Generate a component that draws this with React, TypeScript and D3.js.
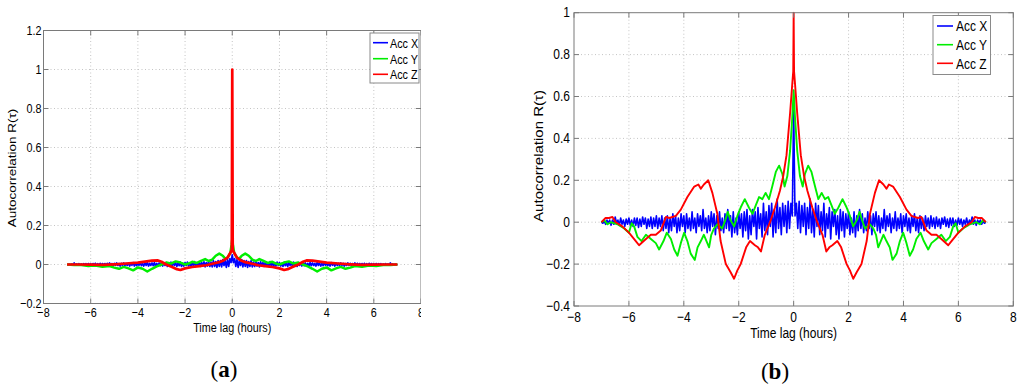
import React, { useEffect, useRef } from 'react';
import * as d3 from 'd3';

const seriesNames = ['Acc X', 'Acc Y', 'Acc Z'];
const seriesColors = ['#0000ff', '#00ee00', '#ff0000'];
const xTicks = [-8, -6, -4, -2, 0, 2, 4, 6, 8];
const yTicksA = [-0.2, 0, 0.2, 0.4, 0.6, 0.8, 1, 1.2];
const yTicksB = [-0.4, -0.2, 0, 0.2, 0.4, 0.6, 0.8, 1];

// Acc X is sampled every 0.05 h from lag 0 to 7 h (the autocorrelation is symmetric)
const xStep = 0.05;

// panel (a)
const accXa = [
  0.05, 0.01, 0.03, -0.01, 0.025, -0.015, 0.02, -0.005, 0.025, -0.012,
  0.02, -0.01, 0.02, -0.015, 0.015, -0.01, 0.02, -0.012, 0.012, -0.01,
  0.015, -0.008, 0.01, -0.012, 0.014, -0.006, 0.01, -0.01, 0.012, -0.008,
  0.008, -0.01, 0.015, -0.006, 0.01, -0.01, 0.008, -0.008, 0.012, -0.005,
  0.01, -0.008, 0.006, -0.01, 0.012, -0.006, 0.008, -0.01, 0.01, -0.005,
  0.008, -0.008, 0.012, -0.006, 0.006, -0.01, 0.01, -0.005, 0.008, -0.008,
  0.01, -0.006, 0.008, -0.008, 0.006, -0.01, 0.01, -0.006, 0.008, -0.005,
  0.006, -0.008, 0.01, -0.005, 0.008, -0.008, 0.006, -0.006, 0.01, -0.004,
  0.008, -0.006, 0.006, -0.008, 0.01, -0.004, 0.006, -0.008, 0.008, -0.005,
  0.006, -0.006, 0.008, -0.004, 0.006, -0.008, 0.005, -0.005, 0.008, -0.004,
  0.006, -0.005, 0.005, -0.006, 0.008, -0.004, 0.006, -0.005, 0.005, -0.003,
  0.005, -0.004, 0.006, -0.005, 0.004, -0.004, 0.006, -0.003, 0.005, -0.004,
  0.004, -0.003, 0.005, -0.004, 0.004, -0.002, 0.004, -0.003, 0.003, -0.002,
  0.004, -0.002, 0.003, -0.003, 0.008, -0.002, 0.003, -0.002, 0.002, -0.001,
  0,
];
const accYa: [number, number][] = [
  [0, 0.13], [0.03, 0.1], [0.08, 0.06], [0.2, 0.035], [0.3, 0.03], [0.4, 0.045],
  [0.55, 0.056], [0.7, 0.045], [0.85, 0.025], [1.0, 0.018], [1.15, 0.028], [1.3, 0.02],
  [1.5, 0.008], [1.7, 0.014], [1.85, 0.005], [2.0, 0.0], [2.2, 0.01], [2.4, 0.016],
  [2.6, 0.005], [2.8, 0.01], [3.0, 0.0], [3.2, -0.01], [3.4, -0.022], [3.6, -0.036],
  [3.8, -0.022], [4.0, -0.015], [4.2, -0.03], [4.4, -0.02], [4.6, -0.012], [4.8, -0.022],
  [5.0, -0.016], [5.2, -0.008], [5.5, -0.012], [5.8, -0.005], [6.1, -0.008], [6.4, -0.003],
  [6.7, -0.002], [7, 0],
];
const accZa: [number, number][] = [
  [0, 1], [0.02, 0.075], [0.08, 0.06], [0.2, 0.035], [0.35, 0.022], [0.55, 0.012],
  [0.8, 0.005], [1.1, -0.004], [1.4, -0.008], [1.7, -0.013], [2.0, -0.02], [2.2, -0.028],
  [2.35, -0.024], [2.55, -0.013], [2.8, 0.0], [3.0, 0.014], [3.15, 0.021], [3.4, 0.02],
  [3.7, 0.015], [4.0, 0.01], [4.5, 0.005], [5.0, 0.001], [5.5, -0.002], [6.0, -0.001],
  [6.5, 0.0], [7, 0],
];

// panel (b)
const accXb = [
  0.55, 0.03, 0.09, -0.03, 0.10, -0.05, 0.08, -0.02, 0.09, -0.06,
  0.07, -0.03, 0.11, -0.05, 0.06, -0.07, 0.09, -0.02, 0.08, -0.06,
  0.05, -0.04, 0.09, -0.07, 0.04, -0.03, 0.07, -0.08, 0.05, -0.02,
  0.06, -0.06, 0.03, -0.08, 0.06, -0.04, 0.05, -0.07, 0.04, -0.03,
  0.05, -0.06, 0.02, -0.05, 0.05, -0.07, 0.03, -0.04, 0.06, -0.03,
  0.04, -0.05, 0.02, -0.04, 0.05, -0.03, 0.03, -0.06, 0.04, -0.02,
  0.05, -0.04, 0.03, -0.05, 0.02, -0.03, 0.06, -0.04, 0.03, -0.02,
  0.04, -0.05, 0.02, -0.03, 0.05, -0.04, 0.02, -0.03, 0.04, -0.05,
  0.03, -0.02, 0.04, -0.04, 0.02, -0.05, 0.03, -0.02, 0.04, -0.04,
  0.02, -0.05, 0.03, -0.03, 0.02, -0.04, 0.03, -0.02, 0.02, -0.03,
  0.03, -0.02, 0.02, -0.03, 0.025, -0.02, 0.015, -0.03, 0.02, -0.01,
  0.025, -0.02, 0.015, -0.025, 0.02, -0.015, 0.02, -0.02, 0.01, -0.015,
  0.02, -0.01, 0.015, -0.02, 0.01, -0.01, 0.02, -0.015, 0.01, -0.005,
  0.025, -0.01, 0.01, -0.015, 0.01, -0.005, 0.01, -0.01, 0.005, -0.005,
  0,
];
const accYb: [number, number][] = [
  [0, 0.63], [0.05, 0.5], [0.13, 0.34], [0.23, 0.22], [0.33, 0.17], [0.41, 0.23],
  [0.53, 0.27], [0.65, 0.24], [0.78, 0.17], [0.9, 0.11], [1.02, 0.14], [1.14, 0.11],
  [1.26, 0.12], [1.38, 0.08], [1.5, 0.04], [1.63, 0.07], [1.78, 0.11], [1.93, 0.07],
  [2.05, 0.03], [2.17, -0.02], [2.3, 0.01], [2.4, 0.05], [2.49, 0.01], [2.6, -0.03],
  [2.78, -0.01], [2.9, -0.03], [3.0, -0.06], [3.08, -0.12], [3.27, -0.06], [3.38, -0.09],
  [3.5, -0.12], [3.6, -0.18], [3.75, -0.15], [3.87, -0.09], [3.99, -0.05], [4.11, -0.1],
  [4.23, -0.16], [4.35, -0.13], [4.47, -0.08], [4.62, -0.05], [4.74, -0.09], [4.9, -0.13],
  [5.02, -0.1], [5.2, -0.08], [5.38, -0.06], [5.54, -0.09], [5.69, -0.07], [5.81, -0.02],
  [5.9, -0.005], [6.0, -0.05], [6.17, -0.03], [6.42, -0.01], [6.66, 0.0], [6.78, -0.01],
  [6.9, 0.01], [7, 0],
];
const accZb: [number, number][] = [
  [0, 1], [0.015, 0.72], [0.05, 0.66], [0.13, 0.52], [0.26, 0.32], [0.38, 0.22],
  [0.5, 0.15], [0.68, 0.07], [0.86, 0.0], [1.05, -0.06], [1.19, -0.14], [1.3, -0.12],
  [1.41, -0.11], [1.59, -0.09], [1.73, -0.12], [1.93, -0.2], [2.05, -0.23], [2.17, -0.27],
  [2.29, -0.24], [2.47, -0.2], [2.66, -0.09], [2.78, 0.04], [2.96, 0.14], [3.11, 0.2],
  [3.27, 0.18], [3.38, 0.16], [3.47, 0.18], [3.62, 0.17], [3.87, 0.12], [4.11, 0.06],
  [4.29, 0.03], [4.53, 0.02], [4.65, 0.025], [4.84, -0.04], [5.02, -0.06], [5.2, -0.06],
  [5.38, -0.08], [5.63, -0.11], [5.75, -0.09], [6.0, -0.05], [6.24, -0.02], [6.48, 0.0],
  [6.6, 0.025], [6.72, 0.02], [6.85, 0.02], [7, 0],
];

const FONT = "'Liberation Sans', Arial, sans-serif";
const SQUEEZE = 0.8; // the figure is narrower than it is tall, text included

const mirror = (pts: [number, number][]) => [
  ...pts.slice(1).map(([t, v]) => [-t, v] as [number, number]).reverse(),
  ...pts,
];
const fromSteps = (vals: number[]) => vals.map((v, i) => [i * xStep, v] as [number, number]);

const fmt = (v: number) => {
  const s = String(+v.toFixed(1));
  return s.startsWith('-') ? '\u2212' + s.slice(1) : s;
};

const panels = [
  {
    id: 'a',
    left: 43.5, right: 421, top: 30.5, bottom: 303.5,
    yDomain: [-0.2, 1.2], yTicks: yTicksA,
    series: [fromSteps(accXa), accYa, accZa],
    widths: [1.7, 2.5, 2.7],
    font: 13.5,
    yLabel: { x: 12, y: 168 }, xLabelY: 331.5, tickY: 317, yTickGap: 2,
    legend: { x: 370, y: 33, w: 49, h: 50, rows: [42.7, 58.7, 74.3], l0: 373, l1: 388, tx: 390, font: 13.5 },
    caption: { x: 224, y: 377 },
    clip: 421,
  },
  {
    id: 'b',
    left: 574, right: 1013.3, top: 12.7, bottom: 306,
    yDomain: [-0.4, 1], yTicks: yTicksB,
    series: [fromSteps(accXb), accYb, accZb],
    widths: [1.6, 1.9, 1.9],
    font: 15,
    yLabel: { x: 539, y: 156 }, xLabelY: 337.5, tickY: 321.5, yTickGap: 4,
    legend: { x: 933, y: 15.5, w: 57.5, h: 59, rows: [26, 44.7, 63.3], l0: 937, l1: 953, tx: 956, font: 15 },
    caption: { x: 775, y: 379 },
    clip: 1024,
  },
];

const App = () => {
  const ref = useRef<SVGSVGElement>(null);

  useEffect(() => {
    const svg = d3.select(ref.current);
    svg.selectAll('*').remove();

    panels.forEach(p => {
      const x = d3.scaleLinear().domain([-8, 8]).range([p.left, p.right]);
      const y = d3.scaleLinear().domain(p.yDomain).range([p.bottom, p.top]);

      svg.append('clipPath').attr('id', `clip-${p.id}`)
        .append('rect').attr('x', 0).attr('y', 0).attr('width', p.clip).attr('height', 389);
      svg.append('clipPath').attr('id', `plot-${p.id}`)
        .append('rect').attr('x', p.left).attr('y', p.top - 1)
        .attr('width', p.right - p.left).attr('height', p.bottom - p.top + 2);

      const g = svg.append('g').attr('clip-path', `url(#clip-${p.id})`);

      // horizontal text squeezed like the reference
      const label = (px: number, py: number, str: string, size: number, anchor: string) =>
        g.append('text').attr('transform', `translate(${px},${py}) scale(${SQUEEZE},1)`)
          .attr('text-anchor', anchor)
          .style('font-family', FONT).style('font-size', `${size}px`).text(str);

      // dotted grid
      xTicks.slice(1, -1).forEach(t => {
        g.append('line').attr('x1', x(t)).attr('x2', x(t)).attr('y1', p.top).attr('y2', p.bottom)
          .attr('stroke', '#c4c4c4').attr('stroke-dasharray', '1,2.5');
      });
      p.yTicks.slice(1, -1).forEach(t => {
        g.append('line').attr('x1', p.left).attr('x2', p.right).attr('y1', y(t)).attr('y2', y(t))
          .attr('stroke', '#c4c4c4').attr('stroke-dasharray', '1,2.5');
      });

      // series lines
      const line = d3.line<[number, number]>().x(d => x(d[0])).y(d => y(d[1]));
      const lines = g.append('g').attr('clip-path', `url(#plot-${p.id})`);
      p.series.forEach((s, i) => {
        lines.append('path').attr('d', line(mirror(s)))
          .attr('fill', 'none').attr('stroke', seriesColors[i])
          .attr('stroke-width', p.widths[i]).attr('stroke-linejoin', 'round');
      });

      // frame and inward ticks
      g.append('rect').attr('x', p.left).attr('y', p.top)
        .attr('width', p.right - p.left).attr('height', p.bottom - p.top)
        .attr('fill', 'none').attr('stroke', '#7a7a7a');
      xTicks.forEach(t => {
        g.append('line').attr('x1', x(t)).attr('x2', x(t)).attr('y1', p.bottom).attr('y2', p.bottom - 5).attr('stroke', '#7a7a7a');
        g.append('line').attr('x1', x(t)).attr('x2', x(t)).attr('y1', p.top).attr('y2', p.top + 5).attr('stroke', '#7a7a7a');
        label(x(t), p.tickY, fmt(t), p.font, 'middle');
      });
      p.yTicks.forEach(t => {
        g.append('line').attr('x1', p.left).attr('x2', p.left + 5).attr('y1', y(t)).attr('y2', y(t)).attr('stroke', '#7a7a7a');
        g.append('line').attr('x1', p.right).attr('x2', p.right - 5).attr('y1', y(t)).attr('y2', y(t)).attr('stroke', '#7a7a7a');
        label(p.left - p.yTickGap, y(t) + 4.5, fmt(t), p.font, 'end');
      });

      // axis labels
      label((p.left + p.right) / 2, p.xLabelY, 'Time lag (hours)', p.font, 'middle');
      g.append('text').attr('transform', `translate(${p.yLabel.x},${p.yLabel.y}) rotate(-90) scale(1,${SQUEEZE})`)
        .attr('text-anchor', 'middle').attr('dy', '0.35em')
        .style('font-family', FONT).style('font-size', `${p.font}px`).text('Autocorrelation R(τ)');

      // legend
      const L = p.legend;
      g.append('rect').attr('x', L.x).attr('y', L.y).attr('width', L.w).attr('height', L.h)
        .attr('fill', '#fff').attr('stroke', '#8a8a8a');
      seriesNames.forEach((name, i) => {
        g.append('line').attr('x1', L.l0).attr('x2', L.l1).attr('y1', L.rows[i]).attr('y2', L.rows[i])
          .attr('stroke', seriesColors[i]).attr('stroke-width', 1.6);
        label(L.tx, L.rows[i] + L.font * 0.36, name, L.font, 'start');
      });

      // caption
      const cap = svg.append('text').attr('x', p.caption.x).attr('y', p.caption.y).attr('text-anchor', 'middle')
        .style('font-family', "'Liberation Serif', 'Times New Roman', serif").style('font-size', '23px');
      cap.append('tspan').text('(');
      cap.append('tspan').style('font-weight', 'bold').text(p.id);
      cap.append('tspan').text(')');
    });
  }, []);

  return (
    <svg ref={ref} width={1024} height={389}
      style={{ position: 'absolute', left: 0, top: 0, background: '#fff' }} />
  );
};

export default App;
